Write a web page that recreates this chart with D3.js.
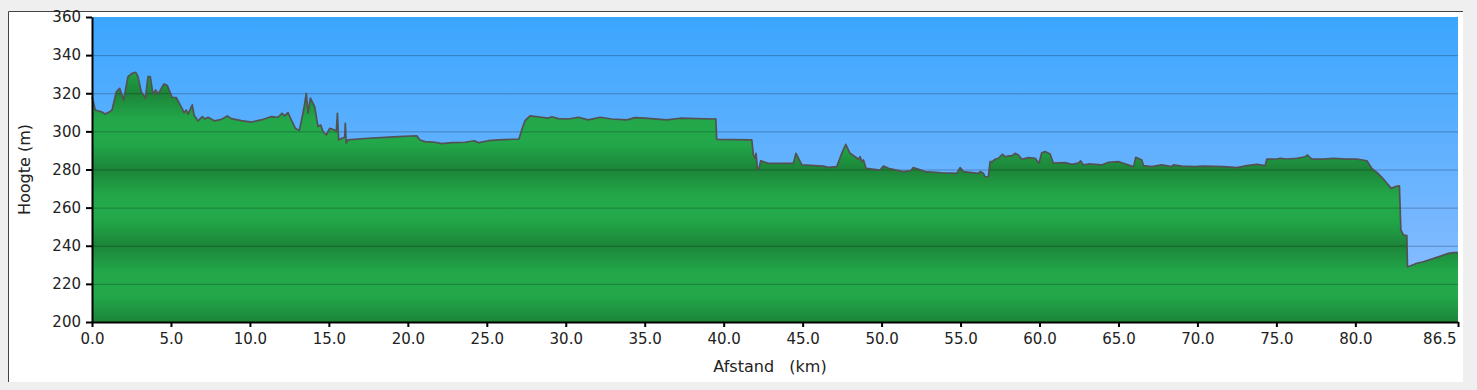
<!DOCTYPE html>
<html>
<head>
<meta charset="utf-8">
<script src="https://cdn.jsdelivr.net/npm/d3@7"></script>
<style>
  body { margin: 0; background: #efefef; }
  svg { display: block; }
  text { font-family: "DejaVu Sans", Verdana, sans-serif; fill: #222; }
</style>
</head>
<body>
<svg id="chart" width="1477" height="390"></svg>
<script>
// Elevation profile: distance (km) and height (m)
const distKm = [0, 0.21, 0.59, 0.84, 1.12, 1.27, 1.54, 1.75, 1.86, 2.0, 2.28, 2.55, 2.77, 2.91, 3.12, 3.38, 3.55, 3.69, 3.86, 4.03,
  4.18, 4.56, 4.77, 5.07, 5.34, 5.7, 5.83, 5.97, 6.08, 6.35, 6.46, 6.71, 6.99, 7.14, 7.35, 7.77, 8.19, 8.57, 8.82, 9.46,
  10.09, 10.72, 11.32, 11.78, 12.03, 12.2, 12.41, 12.62, 12.88, 13.13, 13.36, 13.47, 13.57, 13.68, 13.83, 14.1, 14.31, 14.48, 14.63, 14.84,
  15.05, 15.37, 15.47, 15.54, 15.62, 15.83, 16.0, 16.04, 16.1, 16.21, 17.48, 19.4, 20.56, 20.77, 21.09, 21.72, 22.15, 22.78, 23.62, 24.21,
  24.47, 25.1, 25.73, 27.04, 27.21, 27.42, 27.74, 28.48, 28.9, 29.12, 29.53, 30.17, 30.8, 31.43, 32.17, 32.91, 33.86, 34.39, 35.02, 36.4,
  37.24, 39.35, 39.5, 39.56, 41.78, 41.88, 41.99, 42.05, 42.14, 42.24, 42.35, 42.62, 42.83, 44.41, 44.58, 44.95, 46.32, 46.63, 47.16, 47.48,
  47.73, 48.0, 48.32, 48.53, 48.64, 48.75, 48.85, 49.02, 49.9, 50.12, 50.43, 51.38, 51.85, 52.01, 52.44, 52.75, 53.81, 54.76, 54.97, 55.18,
  56.13, 56.24, 56.45, 56.55, 56.76, 56.87, 57.02, 57.19, 57.4, 57.65, 57.82, 58.03, 58.24, 58.45, 58.66, 58.88, 59.3, 59.72, 59.97, 60.14,
  60.35, 60.67, 60.88, 61.62, 62.04, 62.46, 62.61, 62.78, 63.1, 63.94, 64.36, 65.0, 65.31, 65.95, 66.1, 66.48, 66.58, 67.11, 67.74, 68.38,
  68.48, 69.01, 69.85, 70.38, 71.65, 72.5, 73.13, 73.76, 74.29, 74.39, 75.03, 75.24, 75.66, 76.29, 76.82, 76.97, 77.24, 77.98, 78.61, 79.46,
  80.1, 80.73, 81.04, 81.36, 81.68, 82.0, 82.27, 82.52, 82.79, 82.88, 83.05, 83.26, 83.3, 83.47, 83.89, 84.31, 85.16, 85.9, 86.2, 86.5];
const elevM = [318.2, 311.2, 310.3, 309.1, 310.3, 311.2, 320.8, 322.6, 320, 316.5, 328.7, 330.5, 331, 328.7, 320.8, 317.4, 328.7, 328.7, 319.5, 321.7,
  319.5, 324.9, 324, 317.9, 317.7, 312.1, 309.8, 311.2, 309, 313.9, 308.6, 305.5, 307.7, 306.5, 307.4, 305.5, 306.3, 308.1, 306.7, 305.6,
  304.9, 306, 307.7, 307.4, 309.5, 308.1, 309.8, 306, 301.6, 300.4, 309.5, 314.7, 320, 309.5, 317.4, 313, 302.5, 303.4, 299.8, 298.1,
  301.6, 300.7, 299.8, 309.5, 295.5, 296.4, 296.9, 304.2, 293.8, 295.5, 296.4, 297.2, 297.7, 295.5, 294.6, 294.3, 293.6, 294.1, 294.3, 295.1,
  294.1, 295.1, 295.5, 296, 300.7, 305.6, 308.1, 307.4, 307, 307.7, 306.7, 306.5, 307.4, 306, 307.4, 306.5, 306, 307.2, 307, 306,
  306.9, 306.5, 306.6, 295.8, 295.5, 287.6, 285.9, 288.5, 280.1, 280.6, 284.6, 283.8, 283.2, 283.2, 288.5, 282.4, 281.8, 281.1, 281.5, 288.5,
  293.2, 288.5, 286.7, 285.4, 286.7, 284.1, 285, 280.6, 279.7, 281.8, 280.6, 278.9, 279.4, 281, 279.8, 278.9, 278.3, 278, 281, 278.9,
  278, 278.9, 278, 276.2, 276.2, 284.1, 284.1, 285.4, 285.9, 288, 286.7, 287.1, 287.1, 288.5, 287.6, 285.4, 286.2, 285.9, 283.3, 288.8,
  289.4, 288.1, 283.3, 283.6, 282.7, 283.3, 284.5, 282.4, 282.9, 282.4, 283.8, 284.1, 283.3, 281.5, 286.4, 285, 282, 281.5, 282.4, 281.5,
  282.4, 281.8, 281.5, 281.8, 281.5, 281, 282, 282.7, 282, 285.4, 285.5, 285.9, 285.5, 285.9, 286.7, 287.6, 285.4, 285.4, 285.9, 285.4,
  285.4, 284.6, 280.6, 278.5, 275.9, 272.8, 270.1, 271, 271.4, 248.3, 245.6, 245.3, 229, 229.4, 230.8, 231.6, 233.9, 236, 236.4, 236.4];

const xTicks = [0, 5, 10, 15, 20, 25, 30, 35, 40, 45, 50, 55, 60, 65, 70, 75, 80, 86.5];
const yTicks = [200, 220, 240, 260, 280, 300, 320, 340, 360];

const svg = d3.select("#chart");

// White panel with thin border on top and left
svg.append("rect").attr("x", 8).attr("y", 11).attr("width", 1455).attr("height", 371).attr("fill", "#fff");
svg.append("path").attr("d", "M8.5,382V11.5H1463").attr("fill", "none").attr("stroke", "#444").attr("stroke-width", 1);

const margin = {left: 92, top: 17, right: 1458, bottom: 322};
const x = d3.scaleLinear().domain([0, 86.5]).range([margin.left, margin.right]);
const y = d3.scaleLinear().domain([200, 360]).range([margin.bottom, margin.top]);

const defs = svg.append("defs");
const sky = defs.append("linearGradient").attr("id", "sky")
    .attr("gradientUnits", "userSpaceOnUse")
    .attr("x1", 0).attr("x2", 0).attr("y1", margin.top).attr("y2", margin.bottom);
sky.append("stop").attr("offset", 0).attr("stop-color", "#3aa6fe");
sky.append("stop").attr("offset", 1).attr("stop-color", "#93bfff");

// banded green: light at 300/260/220, dark at 320/280/240/200
const ground = defs.append("linearGradient").attr("id", "ground")
    .attr("gradientUnits", "userSpaceOnUse")
    .attr("spreadMethod", "reflect")
    .attr("x1", 0).attr("x2", 0).attr("y1", y(300)).attr("y2", y(280));
ground.append("stop").attr("offset", 0).attr("stop-color", "#23aa4b");
ground.append("stop").attr("offset", 0.35).attr("stop-color", "#22a649");
ground.append("stop").attr("offset", 1).attr("stop-color", "#1c8538");

svg.append("rect")
    .attr("x", margin.left).attr("y", margin.top)
    .attr("width", margin.right - margin.left).attr("height", margin.bottom - margin.top)
    .attr("fill", "url(#sky)");

const profile = distKm.map((d, i) => [d, elevM[i]]);

svg.append("path")
    .datum(profile)
    .attr("fill", "url(#ground)")
    .attr("d", d3.area().x(d => x(d[0])).y0(y(200)).y1(d => y(d[1])));

// grid lines
svg.append("g")
    .selectAll("line")
    .data(yTicks.filter(t => t > 200 && t < 360))
    .join("line")
    .attr("x1", margin.left).attr("x2", margin.right)
    .attr("y1", d => y(d) + 0.5).attr("y2", d => y(d) + 0.5)
    .attr("stroke", "rgba(0,0,0,0.25)")
    .attr("stroke-width", 1);

svg.append("path")
    .datum(profile)
    .attr("fill", "none")
    .attr("stroke", "#525252")
    .attr("stroke-width", 1.7)
    .attr("stroke-linejoin", "round")
    .attr("d", d3.line().x(d => x(d[0])).y(d => y(d[1])));

// Axes
const yAxis = svg.append("g")
    .attr("transform", `translate(${margin.left},0)`)
    .call(d3.axisLeft(y).tickValues(yTicks).tickSize(6).tickPadding(5).tickSizeOuter(0));
const xAxis = svg.append("g")
    .attr("transform", `translate(0,${margin.bottom})`)
    .call(d3.axisBottom(x).tickValues(xTicks).tickFormat(d3.format(".1f")).tickSize(5).tickPadding(6).tickSizeOuter(0));

[yAxis, xAxis].forEach(g => {
    g.attr("font-size", null).attr("font-family", null);
    g.select(".domain").attr("stroke", "#000").attr("stroke-width", 2);
    g.selectAll(".tick line").attr("stroke", "#000").attr("stroke-width", 2);
    g.selectAll(".tick text").style("font-size", "15px").attr("fill", "#222");
});
// last distance label sits left of its tick
xAxis.selectAll(".tick text").filter(d => d === 86.5).attr("text-anchor", "end").attr("dx", -2);

svg.append("text")
    .attr("transform", `translate(25,${(margin.top + margin.bottom) / 2}) rotate(-90)`)
    .attr("text-anchor", "middle")
    .attr("dominant-baseline", "middle")
    .style("font-size", "16px")
    .text("Hoogte (m)");

svg.append("text")
    .attr("x", 770).attr("y", 372)
    .attr("text-anchor", "middle")
    .style("font-size", "16px")
    .style("white-space", "pre")
    .text("Afstand   (km)");
</script>
</body>
</html>
